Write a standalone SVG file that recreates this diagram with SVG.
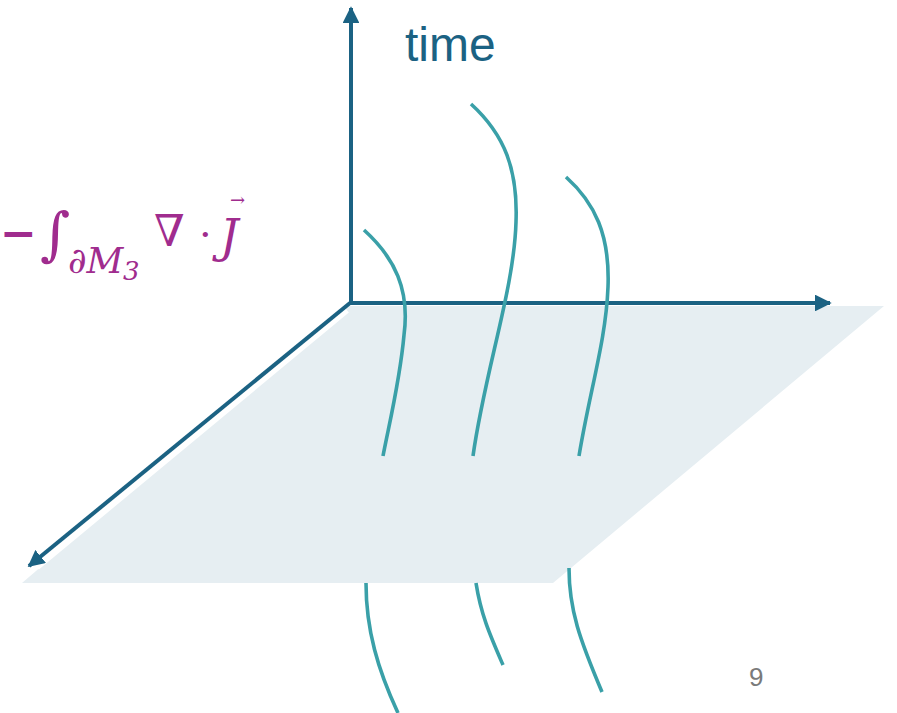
<svg xmlns="http://www.w3.org/2000/svg" width="897" height="713" viewBox="0 0 897 713">
<defs>
<style>
.axis{stroke:#1b6283;stroke-width:4;fill:none}
.halo{stroke:#ffffff;stroke-width:9;fill:none}
.line{stroke:#3aa0a8;stroke-width:3.6;fill:none;stroke-linecap:butt}
.f{fill:#a02c8e;font-family:"DejaVu Serif","Liberation Serif",serif}
</style>
<marker id="ah" viewBox="0 0 10 10" refX="9" refY="5" markerWidth="4.2" markerHeight="4.2" orient="auto" markerUnits="strokeWidth">
<path d="M0,0 L10,5 L0,10 z" fill="#1b6283"/>
</marker>
</defs>
<rect width="897" height="713" fill="#ffffff"/>
<g id="plane">
<polygon points="346,306 884,306 553,583 22,583" fill="#e6eef2"/>
</g>
<g id="worldlines-below">
<path class="line" d="M366,583 C366,630 378,670 398,713"/>
<path class="line" d="M476,583 C481,615 490,635 503,665"/>
<path class="line" d="M569,568 C569,610 580,640 602,692"/>
</g>
<g id="connectors">
<path class="halo" d="M346,309 L36,566"/>
<line class="axis" x1="351" y1="305" x2="351" y2="8" marker-end="url(#ah)"/>
<line class="axis" x1="349" y1="303" x2="830" y2="303" marker-end="url(#ah)"/>
<line class="axis" x1="350" y1="303" x2="29" y2="566" marker-end="url(#ah)"/>
</g>
<g id="worldlines-above">
<path class="line" d="M364,230 C395,258 410,290 404,335 C400,380 390,420 383,456"/>
<path class="line" d="M471,104 C505,135 518,170 516,222 C514,290 485,370 473,456"/>
<path class="line" d="M566,177 C595,203 610,235 608,287 C606,340 590,390 579,456"/>
</g>
<g id="time-label">
<text x="405" y="61" font-family="'Liberation Sans',Arial,sans-serif" font-size="48" fill="#1b6283">time</text>
</g>
<g id="formula">
<text class="f" x="0" y="248" font-size="44" font-weight="bold" font-family="'DejaVu Sans',sans-serif">−</text>
<text class="f" x="40" y="254" font-size="58" font-style="italic">∫</text>
<text class="f" x="68" y="273" font-size="36" font-style="italic">∂M</text>
<text class="f" x="123" y="280" font-size="26" font-style="italic">3</text>
<text class="f" x="154" y="246" font-size="44">∇</text>
<text class="f" x="199" y="248" font-size="40">·</text>
<text class="f" x="220" y="252" font-size="46" font-style="italic">J</text>
<text class="f" x="230" y="206" font-size="18">→</text>
</g>
<g id="page-number">
<text x="749" y="686" font-family="'Liberation Sans',Arial,sans-serif" font-size="26" fill="#7a7a7a">9</text>
</g>
</svg>
